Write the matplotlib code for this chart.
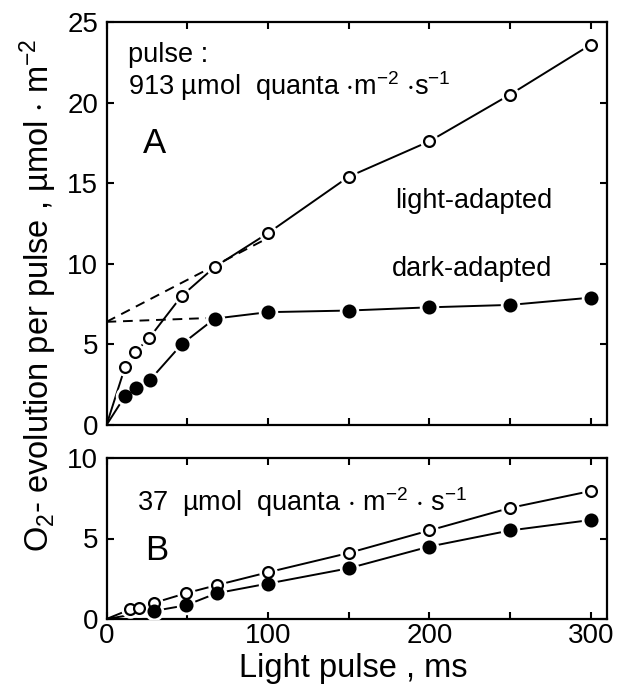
import matplotlib
matplotlib.use("Agg")
import matplotlib.pyplot as plt
from matplotlib.ticker import MultipleLocator, FuncFormatter

plt.rcParams['font.family'] = ['Liberation Sans', 'DejaVu Sans']
plt.rcParams['mathtext.default'] = 'regular'

# ---- Panel A data (913 umol quanta m-2 s-1) ----
a_light_x = [11.5, 17.5, 26.5, 46.5, 67.0, 100, 150, 200, 250, 300]
a_light_y = [3.6, 4.5, 5.4, 8.0, 9.8, 11.9, 15.4, 17.6, 20.5, 23.6]
a_dark_x = [11.5, 18.0, 27.0, 46.5, 67.0, 100, 150, 200, 250, 300]
a_dark_y = [1.8, 2.3, 2.8, 5.0, 6.6, 7.0, 7.1, 7.3, 7.45, 7.9]
# extrapolation (dashed) lines
a_dash_light_x = [0, 100]
a_dash_light_y = [6.4, 11.6]
a_dash_dark_x = [0, 67]
a_dash_dark_y = [6.4, 6.65]

# ---- Panel B data (37 umol quanta m-2 s-1) ----
b_light_x = [14.7, 20.3, 29.4, 49.2, 68.2, 100, 150, 200, 250, 300]
b_light_y = [0.6, 0.68, 1.0, 1.6, 2.1, 2.9, 4.1, 5.5, 6.9, 7.95]
b_dark_x = [29.4, 49.2, 68.2, 100, 150, 200, 250, 300]
b_dark_y = [0.5, 0.85, 1.6, 2.2, 3.15, 4.5, 5.5, 6.15]

W, H = 625, 690
fig = plt.figure(figsize=(W / 100, H / 100), dpi=100)

left = 106.5 / W
width = (607 - 106.5) / W
axA = fig.add_axes([left, 1 - 425 / H, width, (425 - 22) / H])
axB = fig.add_axes([left, 1 - 619 / H, width, (619 - 458) / H])

LW = 1.4
TICKFS = 20
ANNFS = 19.5


def series(ax, x, y, filled, start_origin=True):
    xs = ([0] + list(x)) if start_origin else list(x)
    ys = ([0] + list(y)) if start_origin else list(y)
    ax.plot(xs, ys, color='black', lw=LW, zorder=2, solid_capstyle='butt')
    ms = 8.5 if filled else 7.8
    # white halo to break line around markers
    ax.plot(x, y, 'o', ms=ms + 4.5, mfc='white', mec='white', zorder=3)
    ax.plot(x, y, 'o', ms=ms, mfc='black' if filled else 'white',
            mec='black', mew=1.6, zorder=4)


def style(ax, ymax, ymajor, xlabels):
    ax.set_xlim(0, 310)
    ax.set_ylim(0, ymax)
    for s in ax.spines.values():
        s.set_linewidth(1.6)
    ax.xaxis.set_major_locator(MultipleLocator(50))
    ax.yaxis.set_major_locator(MultipleLocator(ymajor))
    ax.tick_params(direction='in', length=5, width=1.5, top=True, right=True,
                   labelsize=TICKFS)
    ax.tick_params(axis='y', pad=6)
    ax.tick_params(axis='x', pad=3)
    if xlabels:
        ax.xaxis.set_major_formatter(
            FuncFormatter(lambda v, p: f"{int(v)}" if int(v) % 100 == 0 else ""))
    else:
        ax.set_xticklabels([])


# Panel A
axA.plot(a_dash_light_x, a_dash_light_y, color='black', lw=LW,
         dashes=(5, 3.5), zorder=2)
axA.plot(a_dash_dark_x, a_dash_dark_y, color='black', lw=LW,
         dashes=(5, 3.5), zorder=2)
series(axA, a_light_x, a_light_y, filled=False)
series(axA, a_dark_x, a_dark_y, filled=True)
style(axA, 25, 5, xlabels=False)

axA.text(13.3, 22.5, "pulse :", fontsize=ANNFS, ha='left', va='baseline')
axA.text(13.3, 20.45, "913 µmol  quanta $\\cdot$m$^{-2}$ $\\cdot$s$^{-1}$",
         fontsize=ANNFS, ha='left', va='baseline')
axA.text(22.6, 16.9, "A", fontsize=25, ha='left', va='baseline')
axA.text(178.6, 13.46, "light-adapted", fontsize=ANNFS, ha='left', va='baseline')
axA.text(176.8, 9.24, "dark-adapted", fontsize=ANNFS, ha='left', va='baseline')

# Panel B
series(axB, b_light_x, b_light_y, filled=False)
series(axB, b_dark_x, b_dark_y, filled=True)
style(axB, 10, 5, xlabels=True)
axB.text(18.9, 6.73, "37  µmol  quanta $\\cdot$ m$^{-2}$ $\\cdot$ s$^{-1}$",
         fontsize=ANNFS, ha='left', va='baseline')
axB.text(23.8, 3.66, "B", fontsize=25, ha='left', va='baseline')

fig.text(353 / W, 1 - 677 / H, "Light pulse , ms", fontsize=23.5,
         ha='center', va='baseline')
fig.text(38 / W, 1 - 295 / H,
         "O$_2$- evolution per pulse , µmol $\\cdot$ m$^{-2}$",
         fontsize=23.5, rotation=90, ha='center', va='center')

fig.savefig("out.png", dpi=100)
